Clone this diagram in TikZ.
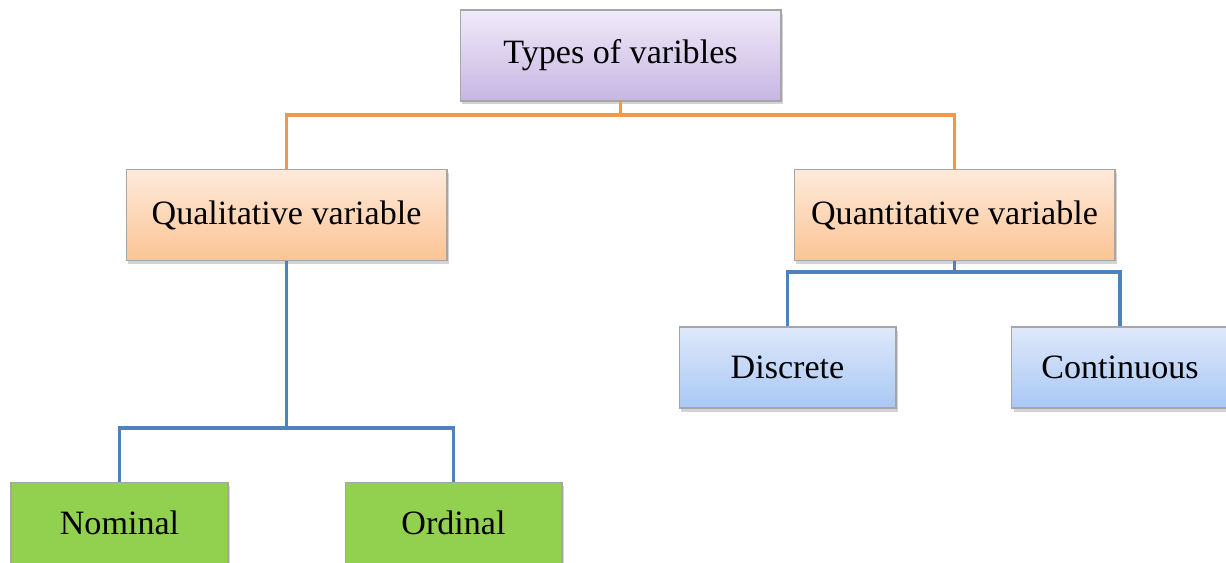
\documentclass[tikz,border=0pt]{standalone}
\usepackage{fontspec}
\setmainfont{Liberation Serif}
\usetikzlibrary{shadows}
\definecolor{BoxGray}{HTML}{A6A6A6}
\definecolor{OrangeLine}{HTML}{F79646}
\definecolor{BlueLine}{HTML}{4F81BD}
\definecolor{LeafGreen}{HTML}{92D050}
\definecolor{LilacTop}{HTML}{F0EAF8}
\definecolor{LilacBottom}{HTML}{C7B6E4}
\definecolor{PeachTop}{HTML}{FEEADB}
\definecolor{PeachBottom}{HTML}{FBC494}
\definecolor{SkyTop}{HTML}{DEE8F9}
\definecolor{SkyBottom}{HTML}{A9C8F6}

\begin{document}
\begin{tikzpicture}[x=0.02cm,y=-0.02cm,
    box/.style={draw=BoxGray, line width=0.6pt, minimum width=6.42cm, minimum height=1.82cm,
        font=\fontsize{19.4}{23}\selectfont,
        drop shadow={shadow xshift=0.04cm, shadow yshift=-0.07cm, opacity=0.35}},
    small box/.style={box, minimum width=4.34cm, minimum height=1.62cm},
    purple/.style={top color=LilacTop, bottom color=LilacBottom},
    peach/.style={top color=PeachTop, bottom color=PeachBottom},
    sky/.style={top color=SkyTop, bottom color=SkyBottom},
    leaf/.style={fill=LeafGreen},
    orange line/.style={draw=OrangeLine, line width=2.1pt},
    blue line/.style={draw=BlueLine, line width=2.1pt}]
    \useasboundingbox (0,0) rectangle (1226,562);

    \node[box, purple] (types) at (620.5,55.5) {Types of varibles};
    \node[box, peach] (qual) at (286.5,215) {Qualitative variable};
    \node[box, peach] (quant) at (954.5,215) {Quantitative variable};
    \node[small box, sky] (disc) at (787.5,367.5) {Discrete};
    \node[small box, sky] (cont) at (1120,367.5) {Continuous};
    \node[small box, leaf] (nom) at (119.5,523) {Nominal};
    \node[small box, leaf] (ord) at (453.5,523) {Ordinal};

    \path[orange line] (types.south) -- ++(0,13.5) -| (qual.north);
    \path[orange line] (types.south) -- ++(0,13.5) -| (quant.north);
    \path[blue line] (qual.south) -- ++(0,167) -| (nom.north);
    \path[blue line] (qual.south) -- ++(0,167) -| (ord.north);
    \path[blue line] (quant.south) -- ++(0,11) -| (disc.north);
    \path[blue line] (quant.south) -- ++(0,11) -| (cont.north);
\end{tikzpicture}
\end{document}
